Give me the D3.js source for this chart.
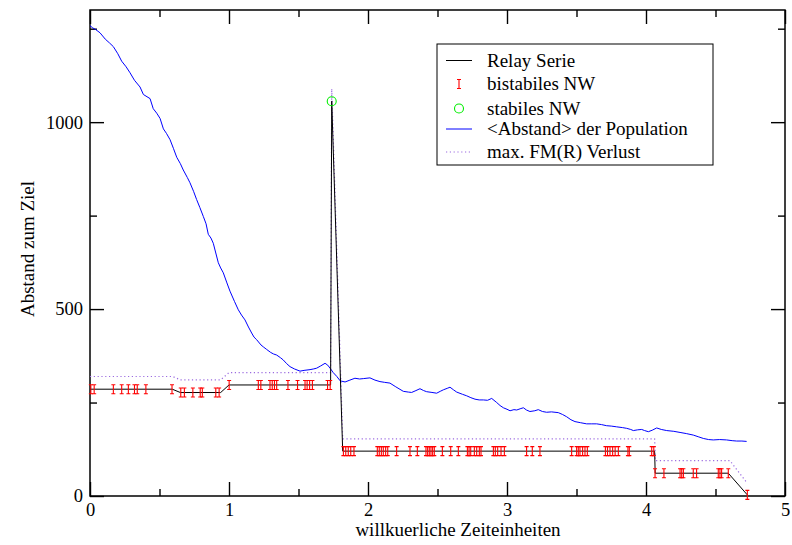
<!DOCTYPE html>
<html><head><meta charset="utf-8">
<script src="https://cdn.jsdelivr.net/npm/d3@7"></script>
<style>body{margin:0;background:#fff}svg{display:block}text{font-family:"Liberation Serif","DejaVu Serif",serif}</style>
</head><body><svg id="c" width="792" height="545"></svg>
<script>
// ---- data ----
const relayX = [0, 0.592, 0.650, 0.940, 1.000, 1.731, 1.739, 1.818, 4.062, 4.066, 4.592, 4.729];
const relayY = [285.7, 285.7, 276.8, 276.8, 297, 297, 1056, 120, 120, 61, 61, 3];
const verlustX = [0, 0.595, 0.650, 0.940, 1.000, 1.731, 1.739, 1.818, 4.062, 4.068, 4.604, 4.729];
const verlustY = [319.6, 319.6, 310.7, 310.7, 330, 330, 1089, 153, 153, 94.6, 94.6, 34];
const bistabileX = [0.006, 0.030, 0.168, 0.228, 0.276, 0.320, 0.340, 0.402, 0.590,
  0.653, 0.679, 0.740, 0.793, 0.808, 0.905, 0.929,
  1.001, 1.211, 1.229, 1.295, 1.311, 1.327, 1.343, 1.424, 1.493, 1.547, 1.562, 1.580, 1.600, 1.709, 1.728,
  1.823, 1.840, 1.858, 1.876, 1.899, 2.067, 2.081, 2.096, 2.110, 2.127, 2.142, 2.206, 2.302, 2.355,
  2.417, 2.429, 2.441, 2.453, 2.465, 2.477, 2.535, 2.595, 2.650, 2.715, 2.727, 2.739, 2.765, 2.782,
  2.801, 2.813, 2.902, 2.916, 2.933, 2.957, 2.981, 3.141, 3.182, 3.237, 3.465, 3.501, 3.513, 3.525,
  3.544, 3.561, 3.578, 3.708, 3.723, 3.741, 3.760, 3.778, 3.801, 3.870, 3.880, 4.041, 4.056,
  4.065, 4.129, 4.245, 4.257, 4.269, 4.340, 4.364, 4.520, 4.532, 4.544, 4.592,
  4.729];
const bistabileY = [285.7, 285.7, 285.7, 285.7, 285.7, 285.7, 285.7, 285.7, 285.7,
  276.8, 276.8, 276.8, 276.8, 276.8, 276.8, 276.8,
  297, 297, 297, 297, 297, 297, 297, 297, 297, 297, 297, 297, 297, 297, 297,
  120, 120, 120, 120, 120, 120, 120, 120, 120, 120, 120, 120, 120, 120,
  120, 120, 120, 120, 120, 120, 120, 120, 120, 120, 120, 120, 120, 120,
  120, 120, 120, 120, 120, 120, 120, 120, 120, 120, 120, 120, 120, 120,
  120, 120, 120, 120, 120, 120, 120, 120, 120, 120, 120, 120, 120,
  61, 61, 61, 61, 61, 61, 61, 61, 61, 61, 61,
  3];
const stabileX = [1.739];
const stabileY = [1056];
const abstandX = [0.000, 0.020, 0.040, 0.072, 0.110, 0.140, 0.168, 0.200, 0.228, 0.260, 0.288, 0.320, 0.360, 0.384,
  0.410, 0.432, 0.455, 0.480, 0.504, 0.528, 0.550, 0.576, 0.600, 0.624, 0.650, 0.671, 0.700, 0.719, 0.745,
  0.767, 0.790, 0.815, 0.835, 0.851, 0.870, 0.887, 0.905, 0.923, 0.940, 0.959, 0.985, 1.007, 1.040, 1.067,
  1.090, 1.115, 1.140, 1.163, 1.180, 1.199, 1.230, 1.250, 1.271, 1.300, 1.320, 1.343, 1.370, 1.390, 1.415,
  1.439, 1.470, 1.511, 1.540, 1.583, 1.610, 1.631, 1.660, 1.691, 1.710, 1.727, 1.750, 1.775, 1.800, 1.835,
  1.870, 1.906, 1.940, 1.966, 2.014, 2.050, 2.086, 2.120, 2.158, 2.200, 2.254, 2.290, 2.314, 2.345, 2.374,
  2.400, 2.422, 2.460, 2.494, 2.520, 2.542, 2.570, 2.590, 2.615, 2.638, 2.680, 2.710, 2.740, 2.770, 2.800,
  2.830, 2.860, 2.890, 2.926, 2.950, 2.974, 3.000, 3.022, 3.050, 3.070, 3.100, 3.118, 3.140, 3.165, 3.200,
  3.225, 3.255, 3.285, 3.320, 3.369, 3.400, 3.429, 3.460, 3.489, 3.530, 3.573, 3.610, 3.645, 3.680, 3.717,
  3.750, 3.789, 3.830, 3.861, 3.890, 3.909, 3.940, 3.969, 3.990, 4.017, 4.045, 4.077, 4.110, 4.149, 4.200,
  4.245, 4.290, 4.340, 4.380, 4.412, 4.450, 4.484, 4.530, 4.580, 4.620, 4.652, 4.690, 4.724];
const abstandY = [1258, 1252, 1248, 1239, 1222, 1212, 1202, 1183, 1163, 1148, 1132, 1112, 1094, 1074,
  1068, 1063, 1036, 1024, 1010, 982, 970, 953, 930, 906, 889, 872, 852, 838, 815,
  793, 772, 748, 728, 700, 690, 676, 650, 624, 610, 597, 570, 548, 520, 498,
  484, 471, 452, 436, 425, 418, 404, 398, 392, 384, 380, 377, 370, 364, 354,
  346, 340, 334, 336, 338, 340, 342, 348, 355, 350, 342, 330, 320, 308, 305,
  310, 315, 313, 314, 316, 310, 306, 304, 302, 292, 280, 278, 277, 282, 287,
  282, 279, 277, 275, 280, 284, 288, 291, 284, 278, 272, 268, 263, 259, 257,
  257, 256, 261, 250, 242, 236, 232, 228, 231, 230, 234, 236, 230, 226, 228,
  231, 226, 224, 225, 223, 218, 212, 204, 199, 196, 193, 193, 193, 191, 188,
  187, 185, 183, 181, 178, 175, 177, 178, 175, 172, 176, 182, 178, 175, 173,
  170, 167, 163, 158, 154, 151, 150, 151, 150, 148, 147, 147, 146];
const xMajor = [0, 1, 2, 3, 4, 5];
const xMinor = [0.5, 1.5, 2.5, 3.5, 4.5];
const yMajor = [0, 500, 1000];
const yMinor = [250, 750, 1250];
const legendLabels = ["Relay Serie", "bistabiles NW", "stabiles NW", "<Abstand> der Population", "max. FM(R) Verlust"];

// ---- chart ----
const L = 90, R = 785, T = 10, B = 496;
const tf = '"Liberation Serif","DejaVu Serif",serif';
const svg = d3.select("#c");
const x = d3.scaleLinear().domain([0, 5]).range([L, R]);
const y = d3.scaleLinear().domain([0, 1300]).range([B, T]);

function axis(gen, tx, ty, vals, size, labels) {
  const a = gen.tickValues(vals).tickSize(-size).tickSizeOuter(0).tickPadding(7);
  a.tickFormat(labels ? d3.format("d") : () => "");
  const g = svg.append("g").attr("transform", `translate(${tx},${ty})`).call(a);
  g.attr("font-family", null).attr("font-size", null);
  g.select(".domain").remove();
  g.selectAll("line").attr("stroke", "#000").attr("stroke-width", 1.4);
  g.selectAll("text").style("font-family", tf).style("font-size", "18.5px").attr("fill", "#000");
  return g;
}
axis(d3.axisBottom(x), 0, B, xMajor, 14, true);
axis(d3.axisBottom(x), 0, B, xMinor, 7, false);
axis(d3.axisTop(x), 0, T, xMajor, 14, false);
axis(d3.axisTop(x), 0, T, xMinor, 7, false);
axis(d3.axisLeft(y), L, 0, yMajor, 14, true);
axis(d3.axisLeft(y), L, 0, yMinor, 7, false);
axis(d3.axisRight(y), R, 0, yMajor, 14, false);
axis(d3.axisRight(y), R, 0, yMinor, 7, false);

svg.append("rect").attr("x", L).attr("y", T).attr("width", R - L).attr("height", B - T)
  .attr("fill", "none").attr("stroke", "#000").attr("stroke-width", 1.5);

const line = d3.line().x(d => x(d[0])).y(d => y(d[1]));
const zip = (a, b) => a.map((v, i) => [v, b[i]]);

svg.append("path").attr("d", line(zip(abstandX, abstandY)))
  .attr("fill", "none").attr("stroke", "#0000ff").attr("stroke-width", 1);
svg.append("path").attr("d", line(zip(verlustX, verlustY)))
  .attr("fill", "none").attr("stroke", "#9b6be0").attr("stroke-width", 1.2).attr("stroke-dasharray", "1.2,2.6");
svg.append("path").attr("d", line(zip(relayX, relayY)))
  .attr("fill", "none").attr("stroke", "#000").attr("stroke-width", 1);

function errMark(g, cx, cy) {
  g.append("path").attr("d", `M${cx},${cy - 4.5}V${cy + 4.5}M${cx - 2},${cy - 4.5}H${cx + 2}M${cx - 2},${cy + 4.5}H${cx + 2}`)
    .attr("fill", "none").attr("stroke", "#ff0000").attr("stroke-width", 1.1);
}
const mg = svg.append("g");
zip(bistabileX, bistabileY).forEach(d => errMark(mg, x(d[0]), y(d[1])));
zip(stabileX, stabileY).forEach(d => svg.append("circle").attr("cx", x(d[0])).attr("cy", y(d[1])).attr("r", 4.5)
  .attr("fill", "none").attr("stroke", "#00ee00").attr("stroke-width", 1.1));

// legend
const lg = svg.append("g");
lg.append("rect").attr("x", 437).attr("y", 44).attr("width", 276).attr("height", 121)
  .attr("fill", "#fff").attr("stroke", "#000").attr("stroke-width", 1);
const rows = [60.5, 84, 108.5, 129, 152];
legendLabels.forEach((t, i) => {
  lg.append("text").attr("x", 487).attr("y", rows[i] + 6).text(t)
    .style("font-family", tf).style("font-size", "19px");
});
lg.append("line").attr("x1", 446).attr("x2", 472).attr("y1", rows[0]).attr("y2", rows[0]).attr("stroke", "#000");
errMark(lg, 459, rows[1]);
lg.append("circle").attr("cx", 459).attr("cy", rows[2]).attr("r", 4.5).attr("fill", "none").attr("stroke", "#00ee00").attr("stroke-width", 1.1);
lg.append("line").attr("x1", 446).attr("x2", 472).attr("y1", rows[3]).attr("y2", rows[3]).attr("stroke", "#0000ff");
lg.append("line").attr("x1", 446).attr("x2", 472).attr("y1", rows[4]).attr("y2", rows[4]).attr("stroke", "#9b6be0").attr("stroke-width", 1.2).attr("stroke-dasharray", "1.2,2.6");

// axis titles
svg.append("text").attr("x", 458).attr("y", 536).attr("text-anchor", "middle")
  .style("font-family", tf).style("font-size", "19px").text("willkuerliche Zeiteinheiten");
svg.append("text").attr("transform", "translate(33.5,249) rotate(-90)").attr("text-anchor", "middle")
  .style("font-family", tf).style("font-size", "19px").text("Abstand zum Ziel");
</script></body></html>
